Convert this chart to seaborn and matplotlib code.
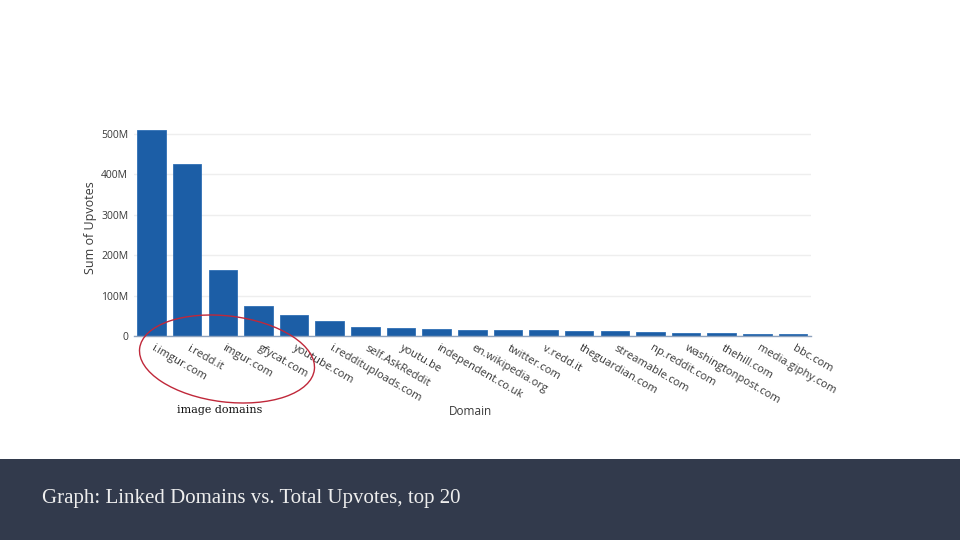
import numpy as np
import pandas as pd
import matplotlib
matplotlib.use("Agg")
import matplotlib.pyplot as plt
import seaborn as sns
from matplotlib.patches import Ellipse, Rectangle
from matplotlib.ticker import FuncFormatter

# top linked domains and their summed upvotes (in millions)
domains = ["i.imgur.com", "i.redd.it", "imgur.com", "gfycat.com", "youtube.com",
           "i.reddituploads.com", "self.AskReddit", "youtu.be", "independent.co.uk",
           "en.wikipedia.org", "twitter.com", "v.redd.it", "theguardian.com",
           "streamable.com", "np.reddit.com", "washingtonpost.com", "thehill.com",
           "media.giphy.com", "bbc.com"]
upvotes_m = [510, 427, 165, 76, 54, 39, 24, 22, 18, 16.5, 16, 15, 14, 13.5, 12,
             8.5, 7.5, 7, 6.5]
y_ticks = [0, 100e6, 200e6, 300e6, 400e6, 500e6]

df = pd.DataFrame({"Domain": domains, "Upvotes": np.array(upvotes_m) * 1e6})

sns.set_theme(style="white")
plt.rcParams["font.family"] = ["Open Sans", "DejaVu Sans"]

fig = plt.figure(figsize=(9.6, 5.4), dpi=100)
fig.patch.set_facecolor("white")

ax = fig.add_axes([0.1393, 0.3769, 0.7053, 0.4028])
sns.barplot(data=df, x="Domain", y="Upvotes", color="#1c5ea6", saturation=1,
            width=0.8, ax=ax, edgecolor="#2f6fb5", linewidth=0.6)
ax.set_xlim(-0.5, len(domains) - 0.5)
ax.set_ylim(0, 537e6)
ax.set_yticks(y_ticks)
ax.yaxis.set_major_formatter(FuncFormatter(lambda v, p: "0" if v == 0 else f"{int(v / 1e6)}M"))
ax.grid(axis="y", color="#eeeeee", linewidth=1)
ax.set_axisbelow(True)
for s in ["top", "right", "left"]:
    ax.spines[s].set_visible(False)
ax.spines["bottom"].set_color("#8fa3bd")
ax.spines["bottom"].set_linewidth(1)
ax.tick_params(axis="both", length=0, colors="#3a3a3a", labelsize=8)
ax.tick_params(axis="y", pad=4, labelsize=7.5)
plt.setp(ax.get_xticklabels(), rotation=-30, ha="left", va="center",
         rotation_mode="anchor")
ax.tick_params(axis="x", pad=8)
ax.set_xlabel("Domain", color="#3a3a3a", fontsize=8.5)
ax.set_ylabel("Sum of Upvotes", color="#3a3a3a", fontsize=9)
ax.xaxis.set_label_coords(0.497, -0.315)
ax.yaxis.set_label_coords(-0.054, 0.5)

# overlay in pixel coordinates for the slide decorations
ov = fig.add_axes([0, 0, 1, 1])
ov.set_xlim(0, 960)
ov.set_ylim(540, 0)
ov.axis("off")
ov.patch.set_alpha(0)
ov.add_patch(Ellipse((227, 359), 176, 86, angle=7, fill=False,
                     edgecolor="#c0283a", linewidth=1))
ov.text(220, 410, "image domains", ha="center", va="center", fontsize=8,
        family="DejaVu Serif", color="#111111")
ov.add_patch(Rectangle((0, 459), 960, 81, facecolor="#323a4c", edgecolor="none"))
ov.text(42, 498, "Graph: Linked Domains vs. Total Upvotes, top 20", ha="left",
        va="center", fontsize=15, family="Liberation Serif", color="#eeeeee")

fig.savefig("out.png", dpi=100)
